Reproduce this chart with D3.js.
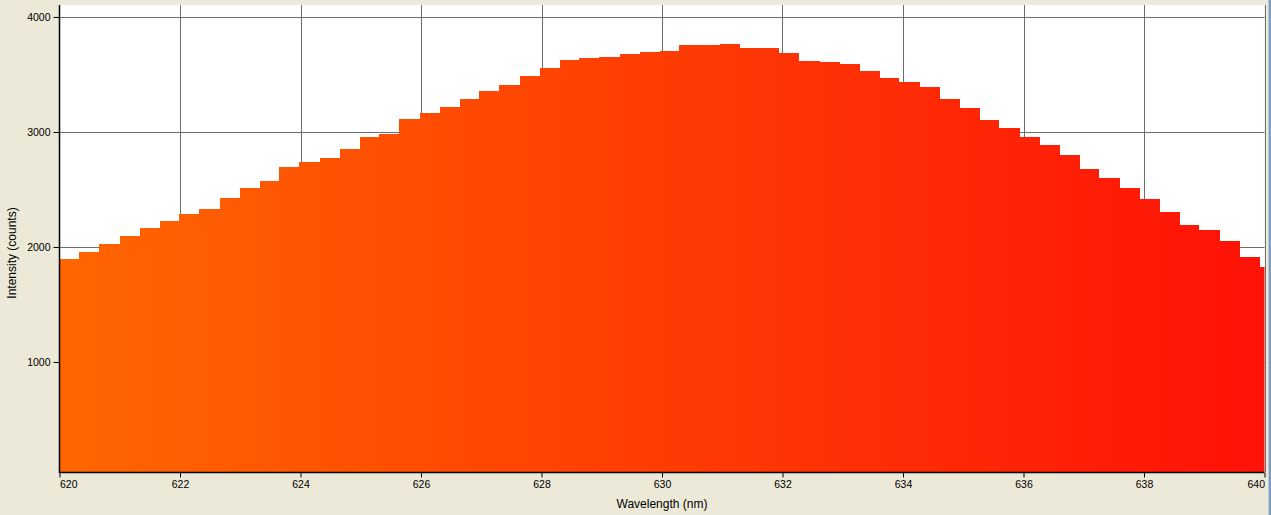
<!DOCTYPE html>
<html>
<head>
<meta charset="utf-8">
<script src="https://cdn.jsdelivr.net/npm/d3@7"></script>
<style>
  html, body { margin: 0; padding: 0; background: #ECE9D8; }
  svg { display: block; }
  .tick text { font-family: "Liberation Sans", Arial, sans-serif; font-size: 10.5px; fill: #000; }
  .title { font-family: "Liberation Sans", Arial, sans-serif; font-size: 12px; fill: #000; }
</style>
</head>
<body>
<div id="chart"></div>
<script>
// bin start wavelengths (nm), one bin per detector pixel
const wavelengths = [
  620.00, 620.33, 620.66, 621.00, 621.33, 621.66, 621.99, 622.32, 622.66, 622.99,
  623.32, 623.65, 623.98, 624.32, 624.65, 624.98, 625.31, 625.64, 625.98, 626.31,
  626.64, 626.97, 627.30, 627.64, 627.97, 628.30, 628.63, 628.96, 629.30, 629.63,
  629.96, 630.29, 630.62, 630.96, 631.29, 631.62, 631.95, 632.28, 632.62, 632.95,
  633.28, 633.61, 633.94, 634.28, 634.61, 634.94, 635.27, 635.60, 635.94, 636.27,
  636.60, 636.93, 637.26, 637.60, 637.93, 638.26, 638.59, 638.92, 639.26, 639.59,
  639.92
];
const binWidth = 0.332;
// intensity (counts) per bin
const counts = [
  1896, 1957, 2026, 2096, 2165, 2226, 2287, 2330, 2426, 2513,
  2574, 2696, 2739, 2774, 2852, 2957, 2983, 3113, 3165, 3217,
  3287, 3357, 3409, 3487, 3557, 3626, 3643, 3652, 3678, 3696,
  3704, 3757, 3757, 3765, 3730, 3730, 3687, 3617, 3609, 3591,
  3530, 3470, 3435, 3391, 3287, 3209, 3104, 3035, 2957, 2887,
  2800, 2678, 2600, 2513, 2417, 2304, 2191, 2148, 2052, 1913,
  1826
];
const xTicks = [620, 622, 624, 626, 628, 630, 632, 634, 636, 638, 640];
const yTicks = [1000, 2000, 3000, 4000];
const xDomain = [620, 640];
const yDomain = [43.5, 4104];
const colourStops = ["#FF6600", "#FF1208"];

const width = 1271, height = 515;
const plotLeft = 59.5, plotRight = 1264.5, plotTop = 5, plotBottom = 472;

const svg = d3.select("#chart").append("svg")
  .attr("width", width)
  .attr("height", height);

let x = d3.scaleLinear().domain(xDomain).range([plotLeft, plotRight]);
let y = d3.scaleLinear().domain(yDomain).range([plotBottom, plotTop]);
let colour = d3.scaleLinear().domain(xDomain).range(colourStops).interpolate(d3.interpolateRgb);

// plot background
svg.append("rect")
  .attr("x", plotLeft).attr("y", plotTop)
  .attr("width", plotRight - plotLeft).attr("height", plotBottom - plotTop)
  .attr("fill", "#fff");

// window edge on the right
svg.append("rect").attr("x", 1268).attr("y", 0).attr("width", 1).attr("height", height).attr("fill", "#B9C9DE");
svg.append("rect").attr("x", 1269).attr("y", 0).attr("width", 2).attr("height", height).attr("fill", "#7F9DB9");

const defs = svg.append("defs");
defs.append("clipPath").attr("id", "plot-clip")
  .append("rect")
  .attr("x", plotLeft).attr("y", plotTop)
  .attr("width", plotRight - plotLeft).attr("height", plotBottom - plotTop);

const grad = defs.append("linearGradient")
  .attr("id", "spectrum")
  .attr("gradientUnits", "userSpaceOnUse")
  .attr("x1", x(xDomain[0])).attr("x2", x(xDomain[1]))
  .attr("y1", 0).attr("y2", 0);
grad.selectAll("stop")
  .data(xTicks)
  .join("stop")
  .attr("offset", d => (d - xDomain[0]) / (xDomain[1] - xDomain[0]))
  .attr("stop-color", d => colour(d));

// grid lines
const grid = svg.append("g").attr("stroke", "#6E6E6E").attr("stroke-width", 1);
grid.selectAll(".vgrid")
  .data(xTicks.slice(1))
  .join("line")
  .attr("class", "vgrid")
  .attr("x1", d => Math.round(x(d)) + 0.5).attr("x2", d => Math.round(x(d)) + 0.5)
  .attr("y1", plotTop).attr("y2", plotBottom);
grid.selectAll(".hgrid")
  .data(yTicks)
  .join("line")
  .attr("class", "hgrid")
  .attr("x1", plotLeft).attr("x2", plotRight)
  .attr("y1", d => Math.round(y(d)) + 0.5).attr("y2", d => Math.round(y(d)) + 0.5);

// the spectrum as a step area
let bins = wavelengths.map((w, i) => ({ w: w, v: counts[i] }));
bins.push({ w: wavelengths[wavelengths.length - 1] + binWidth, v: counts[counts.length - 1] });

let area = d3.area()
  .curve(d3.curveStepAfter)
  .x(d => Math.round(x(d.w)))
  .y0(plotBottom)
  .y1(d => Math.round(y(d.v)));

svg.append("g")
  .attr("clip-path", "url(#plot-clip)")
  .append("path")
  .datum(bins)
  .attr("d", area)
  .attr("fill", "url(#spectrum)")
  .attr("shape-rendering", "crispEdges");

// axes
const xAxis = svg.append("g")
  .attr("transform", `translate(0,${plotBottom + 0.5})`)
  .call(d3.axisBottom(x).tickValues(xTicks).tickSize(5).tickSizeOuter(0).tickPadding(3).tickFormat(d3.format("d")));
xAxis.selectAll("text")
  .attr("text-anchor", (d, i) => i === 0 ? "start" : (i === xTicks.length - 1 ? "end" : "middle"));

const yAxis = svg.append("g")
  .attr("transform", `translate(${plotLeft},0)`)
  .call(d3.axisLeft(y).tickValues(yTicks).tickSize(6).tickSizeOuter(0).tickPadding(3).tickFormat(d3.format("d")));

svg.selectAll(".domain").attr("stroke", "#000").attr("stroke-width", 1.5);
svg.selectAll(".tick line").attr("stroke", "#000");
// axis line ends
yAxis.select(".domain").attr("d", `M0,${plotTop}V${plotBottom + 1}`);
xAxis.select(".domain").attr("d", `M${plotLeft},0H${plotRight}`);

// titles
svg.append("text")
  .attr("class", "title")
  .attr("x", 662).attr("y", 508)
  .attr("text-anchor", "middle")
  .text("Wavelength (nm)");

svg.append("text")
  .attr("class", "title")
  .attr("transform", "translate(16,253) rotate(-90)")
  .attr("text-anchor", "middle")
  .text("Intensity (counts)");
</script>
</body>
</html>
